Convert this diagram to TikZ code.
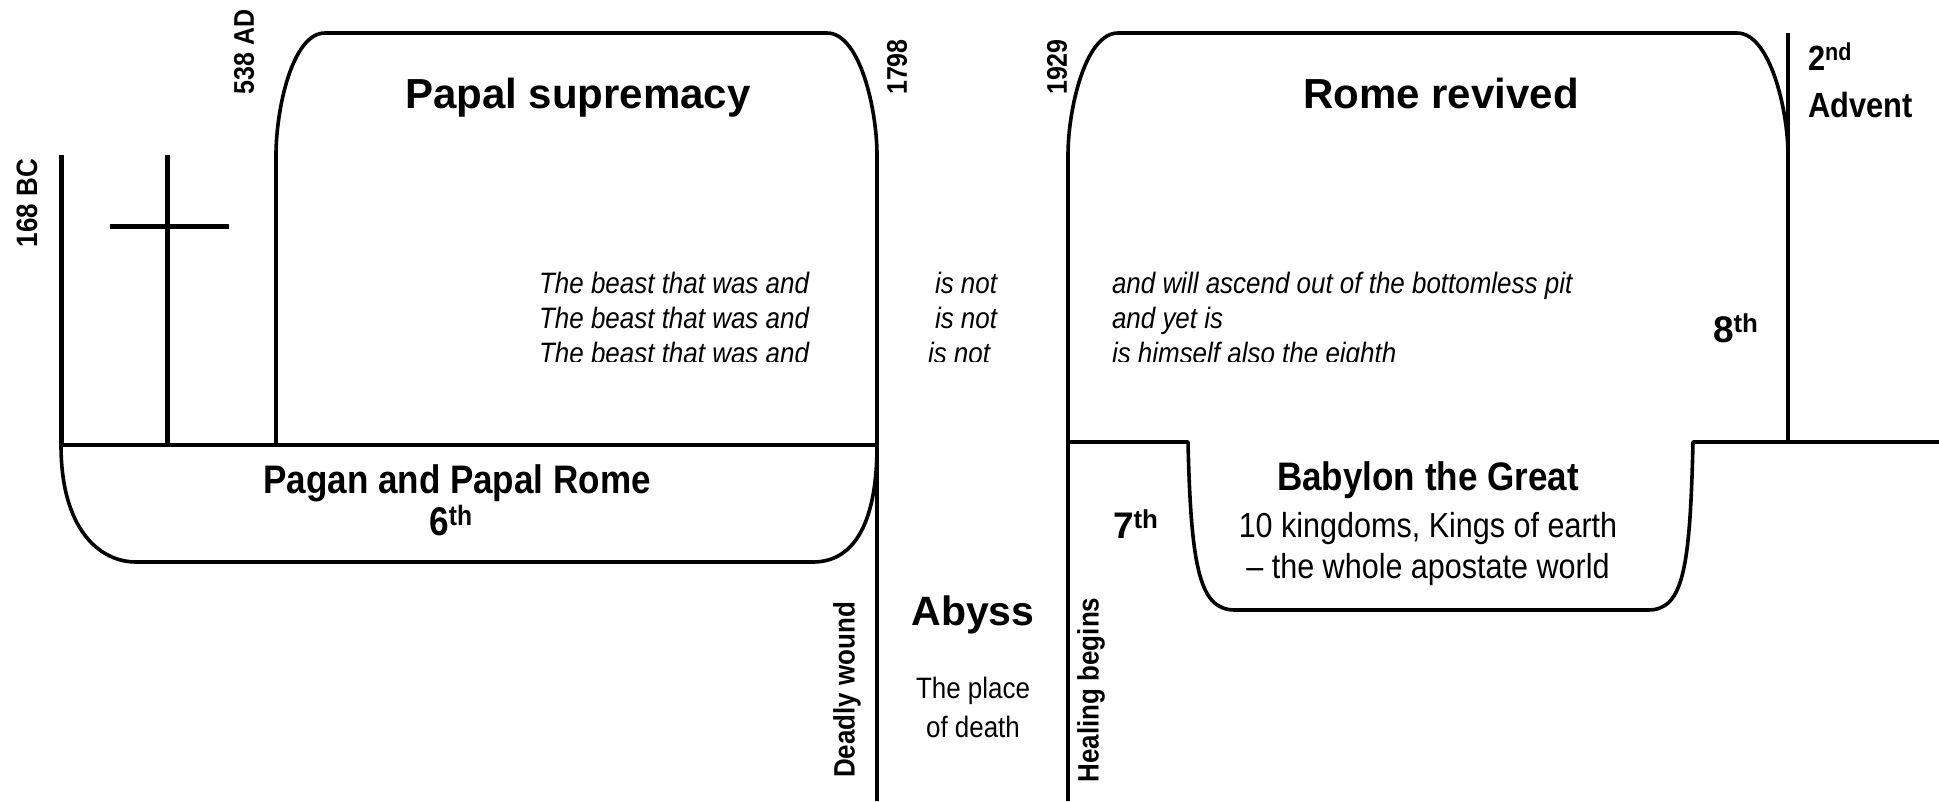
\documentclass[tikz,border=0pt]{standalone}
\usepackage{fontspec}
\setmainfont{Liberation Sans}
\newfontfamily\narrowfont[FakeStretch=0.88,Ligatures=TeX]{Liberation Sans}
\newcommand{\myfs}[1]{\fontsize{#1}{#1}\selectfont}
\tikzset{
  outline/.style={line width=3.6pt, line join=round, line cap=butt},
  bar/.style={line width=5pt},
  txt/.style={inner sep=0pt, outer sep=0pt},
  dateb/.style={txt, rotate=90, font=\narrowfont\myfs{28.4}\bfseries},
  title/.style={txt, anchor=base, font=\myfs{42}\bfseries},
  sub/.style={txt, anchor=base, font=\narrowfont\myfs{39.8}\bfseries},
  ord/.style={txt, anchor=base west, font=\myfs{37}\bfseries},
  ital/.style={txt, font=\narrowfont\myfs{29.5}\itshape},
  plain/.style={txt, anchor=base, font=\narrowfont\myfs{34.7}},
  small/.style={txt, anchor=base, font=\narrowfont\myfs{29.5}},
}
\begin{document}
\begin{tikzpicture}[x=1pt,y=-1pt]
\useasboundingbox (0,0) rectangle (1939,801);

% key points
\coordinate (bcTop) at (61,155);
\coordinate (bcBot) at (61,445);
\coordinate (crossTop) at (167,155);
\coordinate (crossBot) at (167,445);
\coordinate (armL) at (110,226);
\coordinate (armR) at (229,226);
\coordinate (adBot) at (276,445);
\coordinate (woundTop) at (877,155);
\coordinate (woundBot) at (877,801);
\coordinate (healBot) at (1068,801);
\coordinate (healTop) at (1068,155);
\coordinate (advTop) at (1788,33);
\coordinate (advBot) at (1788,442);

% left lines and cross
\draw[bar] (bcTop) -- (bcBot);
\draw[bar] (crossTop) -- (crossBot);
\draw[bar] (armL) -- (armR);

% Papal supremacy shape
\draw[outline] (adBot) -- (276,155) .. controls (276,110) and (292,33) .. (325,33)
  -- (827,33) .. controls (860,33) and (877,110) .. (woundTop) -- (woundBot);
\draw[outline] (bcBot) -- (877,445);

% Pagan and Papal Rome shape
\draw[outline] (bcBot) .. controls (61,530) and (100,562) .. (136,562)
  -- (813,562) .. controls (850,562) and (877,530) .. (877,445);

% Rome revived shape
\draw[outline] (healBot) -- (healTop) .. controls (1068,110) and (1085,33) .. (1118,33)
  -- (1737,33) .. controls (1770,33) and (1788,110) .. (1788,155);
\draw[outline] (advTop) -- (advBot);

% Babylon shape
\draw[outline] (1068,442) -- (1188,442) .. controls (1191,570) and (1200,610) .. (1235,610)
  -- (1648,610) .. controls (1683,610) and (1690,570) .. (1693,442) -- (1939,442);

% dates
\node[dateb, font=\narrowfont\myfs{29.5}\bfseries] (bc) at (27,203) {168 BC};
\node[dateb] (ad) at (244,52) {538 AD};
\node[dateb] (d1798) at (897,67) {1798};
\node[dateb] (d1929) at (1057,67) {1929};

% titles
\node[title] (papal) at (578,108) {Papal supremacy};
\node[title] (rome) at (1441,108) {Rome revived};
\node[sub] (pagan) at (457,493) {Pagan and Papal Rome};
\node[txt, anchor=base, font=\narrowfont\myfs{40}\bfseries] (six) at (451,535) {6\textsuperscript{th}};
\node[sub] (babylon) at (1428,490) {Babylon the Great};
\node[plain] (kings) at (1428,537) {10 kingdoms, Kings of earth};
\node[plain] (world) at (1428,578) {– the whole apostate world};
\node[ord] (seven) at (1113,538) {7\textsuperscript{th}};
\node[ord] (eight) at (1713,342) {8\textsuperscript{th}};

% abyss
\node[txt, anchor=base, font=\myfs{41}\bfseries] (abyss) at (973,625) {Abyss};
\node[small] (place1) at (973,698) {The place};
\node[small] (place2) at (973,737) {of death};
\node[dateb, font=\narrowfont\myfs{29.5}\bfseries] (wound) at (847,690) {Deadly wound};
\node[dateb, font=\narrowfont\myfs{29.5}\bfseries] (heal) at (1091,690) {Healing begins};

% advent
\node[txt, anchor=base west, font=\narrowfont\myfs{35}\bfseries] (second) at (1808,70) {2\textsuperscript{nd}};
\node[txt, anchor=base west, font=\narrowfont\myfs{35}\bfseries] (advent) at (1808,117) {Advent};

% italic block (cut off at the bottom, as in the source)
\begin{scope}
\clip (0,0) rectangle (1939,361);
\node[ital, anchor=base east] (w1) at (809,293) {The beast that was and};
\node[ital, anchor=base east] (w2) at (809,328) {The beast that was and};
\node[ital, anchor=base east] (w3) at (809,363) {The beast that was and};
\node[ital, anchor=base west] (n1) at (935,293) {is not};
\node[ital, anchor=base west] (n2) at (935,328) {is not};
\node[ital, anchor=base west] (n3) at (928,363) {is not};
\node[ital, anchor=base west] (a1) at (1112,293) {and will ascend out of the bottomless pit};
\node[ital, anchor=base west] (a2) at (1112,328) {and yet is};
\node[ital, anchor=base west] (a3) at (1112,363) {is himself also the eighth};
\end{scope}
\end{tikzpicture}
\end{document}
